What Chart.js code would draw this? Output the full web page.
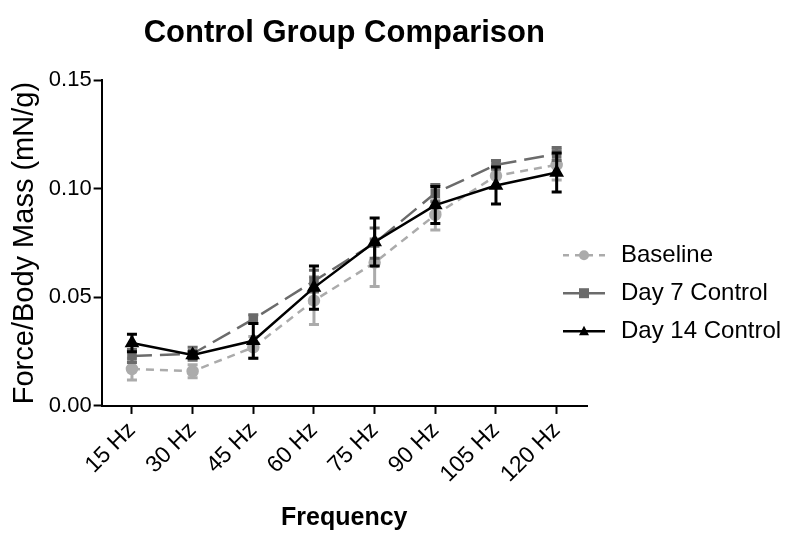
<!DOCTYPE html>
<html>
<head>
<meta charset="utf-8">
<script src="https://cdn.jsdelivr.net/npm/chart.js@4.4.1/dist/chart.umd.min.js"></script>
<style>
  html, body { margin: 0; padding: 0; background: #fff; }
  #wrap { width: 799px; height: 533px; }
</style>
</head>
<body>
<div id="wrap"><canvas id="control-chart"></canvas></div>
<script>
const frequencies = ["15 Hz", "30 Hz", "45 Hz", "60 Hz", "75 Hz", "90 Hz", "105 Hz", "120 Hz"];
const yTicks = [0, 0.05, 0.10, 0.15];

const baseline = [0.017, 0.016, 0.027, 0.0485, 0.066, 0.088, 0.106, 0.111];
const baselineErr = [0.005, 0.003, 0.005, 0.011, 0.011, 0.007, 0.005, 0.007];
const day7 = [0.023, 0.024, 0.040, 0.0575, 0.075, 0.098, 0.111, 0.116];
const day7Err = [0.003, 0.003, 0.002, 0.005, 0.007, 0.004, 0.002, 0.003];
const day14 = [0.029, 0.0235, 0.030, 0.0545, 0.0755, 0.0925, 0.1015, 0.1075];
const day14Err = [0.004, 0.0015, 0.008, 0.010, 0.011, 0.0085, 0.0085, 0.009];

const FONT = "'Liberation Sans', Arial, sans-serif";

// error bars, drawn just before each dataset so layering follows the lines
const errorBars = {
  id: "errorBars",
  beforeDatasetDraw(chart, args) {
    const ds = chart.data.datasets[args.index];
    if (!ds.errors) return;
    const y = chart.scales.y;
    const meta = args.meta;
    const ctx = chart.ctx;
    ctx.save();
    ctx.strokeStyle = ds.borderColor;
    ctx.lineWidth = 3;
    ctx.setLineDash([]);
    meta.data.forEach((pt, i) => {
      const v = ds.data[i];
      const e = ds.errors[i];
      const top = y.getPixelForValue(v + e);
      const bot = y.getPixelForValue(v - e);
      ctx.beginPath();
      ctx.moveTo(pt.x, top);
      ctx.lineTo(pt.x, bot);
      ctx.moveTo(pt.x - 5, top);
      ctx.lineTo(pt.x + 5, top);
      ctx.moveTo(pt.x - 5, bot);
      ctx.lineTo(pt.x + 5, bot);
      ctx.stroke();
    });
    ctx.restore();
  }
};

function drawMarker(ctx, style, x, y, r) {
  ctx.beginPath();
  if (style === "circle") {
    ctx.arc(x, y, r, 0, Math.PI * 2);
  } else if (style === "rect") {
    ctx.rect(x - r, y - r, r * 2, r * 2);
  } else {
    ctx.moveTo(x, y - r * 1.1);
    ctx.lineTo(x + r, y + r * 0.8);
    ctx.lineTo(x - r, y + r * 0.8);
    ctx.closePath();
  }
  ctx.fill();
}

// legend at the right with line + marker swatches
const sideLegend = {
  id: "sideLegend",
  afterDraw(chart) {
    const { ctx, chartArea } = chart;
    chart.data.datasets.forEach((ds, i) => {
      const x = chartArea.right - 24;
      const y = chartArea.top + 175 + i * 38;
      ctx.save();
      ctx.strokeStyle = ds.borderColor;
      ctx.fillStyle = ds.borderColor;
      ctx.lineWidth = 2.5;
      ctx.setLineDash(ds.legendDash);
      ctx.beginPath();
      ctx.moveTo(x, y);
      ctx.lineTo(x + 42, y);
      ctx.stroke();
      ctx.setLineDash([]);
      drawMarker(ctx, ds.pointStyle, x + 21, y, 5);
      ctx.fillStyle = "#000";
      ctx.font = "24px " + FONT;
      ctx.textBaseline = "middle";
      ctx.fillText(ds.label, x + 58, y);
      ctx.restore();
    });
  }
};

new Chart(document.getElementById("control-chart"), {
  type: "line",
  data: {
    labels: frequencies,
    datasets: [
      {
        label: "Baseline",
        data: baseline,
        errors: baselineErr,
        borderColor: "#ababab",
        backgroundColor: "#ababab",
        borderWidth: 2.5,
        borderDash: [8, 6],
        legendDash: [6, 6],
        pointStyle: "circle",
        pointRadius: 5,
        order: 3,
      },
      {
        label: "Day 7 Control",
        data: day7,
        errors: day7Err,
        borderColor: "#6b6b6b",
        backgroundColor: "#6b6b6b",
        borderWidth: 2.5,
        borderDash: [20, 8],
        legendDash: [],
        pointStyle: "rect",
        pointRadius: 5,
        order: 2,
      },
      {
        label: "Day 14 Control",
        data: day14,
        errors: day14Err,
        borderColor: "#000000",
        backgroundColor: "#000000",
        borderWidth: 2.5,
        legendDash: [],
        pointStyle: "triangle",
        pointRadius: 6,
        order: 1,
      },
    ],
  },
  options: {
    responsive: true,
    maintainAspectRatio: false,
    animation: false,
    layout: { padding: { top: 11, right: 212, left: 8, bottom: 0 } },
    plugins: {
      legend: { display: false },
      tooltip: { enabled: false },
      title: {
        display: true,
        fullSize: false,
        text: "Control Group Comparison",
        color: "#000",
        font: { family: FONT, size: 31, weight: "bold" },
        padding: { top: 4, bottom: 28 },
      },
    },
    scales: {
      x: {
        offset: true,
        grid: { drawOnChartArea: false, color: "#000", tickLength: 8, tickWidth: 2 },
        border: { color: "#000", width: 2 },
        ticks: {
          color: "#000",
          font: { family: FONT, size: 23 },
          minRotation: 45,
          maxRotation: 45,
          padding: 3,
        },
        title: {
          display: true,
          text: "Frequency",
          color: "#000",
          font: { family: FONT, size: 25, weight: "bold" },
          padding: { top: 12, bottom: 0 },
        },
      },
      y: {
        min: 0,
        max: 0.15,
        afterBuildTicks(scale) {
          scale.ticks = yTicks.map(v => ({ value: v }));
        },
        grid: { drawOnChartArea: false, color: "#000", tickLength: 8, tickWidth: 2 },
        border: { color: "#000", width: 2 },
        ticks: {
          color: "#000",
          font: { family: FONT, size: 22 },
          padding: 2,
          callback: v => v.toFixed(2),
        },
        title: {
          display: true,
          text: "Force/Body Mass (mN/g)",
          color: "#000",
          font: { family: FONT, size: 29 },
          padding: { top: 0, bottom: 4 },
        },
      },
    },
  },
  plugins: [errorBars, sideLegend],
});
</script>
</body>
</html>
